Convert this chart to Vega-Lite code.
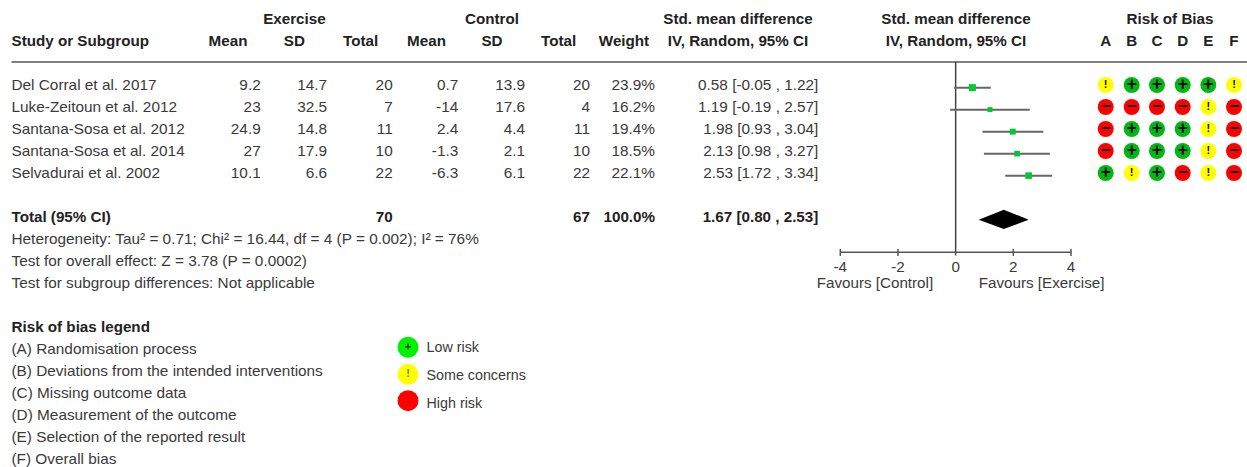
{"$schema":"https://vega.github.io/schema/vega-lite/v6.json","width":1247,"height":467,"padding":0,"autosize":{"type":"fit","contains":"padding"},"background":"white","config":{"view":{"stroke":null},"text":{"font":"Liberation Sans","fontSize":15.2}},
"datasets":{
"cells":[
{"s":"center-bold","t":"Exercise","c":3,"r":0},{"s":"center-bold","t":"Control","c":10,"r":0},{"s":"center-bold","t":"Std. mean difference","c":16,"r":0},{"s":"center-bold","t":"Std. mean difference","c":18,"r":0},{"s":"center-bold","t":"Risk of Bias","c":22,"r":0},
{"s":"left-bold","t":"Study or Subgroup","c":0,"r":1},{"s":"center-bold","t":"Mean","c":1,"r":1},{"s":"center-bold","t":"SD","c":3,"r":1},{"s":"center-bold","t":"Total","c":5,"r":1},{"s":"center-bold","t":"Mean","c":8,"r":1},{"s":"center-bold","t":"SD","c":10,"r":1},{"s":"center-bold","t":"Total","c":12,"r":1},{"s":"center-bold","t":"Weight","c":14,"r":1},{"s":"center-bold","t":"IV, Random, 95% CI","c":16,"r":1},{"s":"center-bold","t":"IV, Random, 95% CI","c":18,"r":1},
{"s":"center-bold","t":"A","c":19,"r":1},{"s":"center-bold","t":"B","c":20,"r":1},{"s":"center-bold","t":"C","c":21,"r":1},{"s":"center-bold","t":"D","c":23,"r":1},{"s":"center-bold","t":"E","c":24,"r":1},{"s":"center-bold","t":"F","c":25,"r":1},
{"s":"left","t":"Del Corral et al. 2017","c":0,"r":3},{"s":"right","t":"9.2","c":2,"r":3},{"s":"right","t":"14.7","c":4,"r":3},{"s":"right","t":"20","c":6,"r":3},{"s":"right","t":"0.7","c":9,"r":3},{"s":"right","t":"13.9","c":11,"r":3},{"s":"right","t":"20","c":13,"r":3},{"s":"right","t":"23.9%","c":15,"r":3},{"s":"right","t":"0.58 [-0.05 , 1.22]","c":17,"r":3},
{"s":"left","t":"Luke-Zeitoun et al. 2012","c":0,"r":4},{"s":"right","t":"23","c":2,"r":4},{"s":"right","t":"32.5","c":4,"r":4},{"s":"right","t":"7","c":6,"r":4},{"s":"right","t":"-14","c":9,"r":4},{"s":"right","t":"17.6","c":11,"r":4},{"s":"right","t":"4","c":13,"r":4},{"s":"right","t":"16.2%","c":15,"r":4},{"s":"right","t":"1.19 [-0.19 , 2.57]","c":17,"r":4},
{"s":"left","t":"Santana-Sosa et al. 2012","c":0,"r":5},{"s":"right","t":"24.9","c":2,"r":5},{"s":"right","t":"14.8","c":4,"r":5},{"s":"right","t":"11","c":6,"r":5},{"s":"right","t":"2.4","c":9,"r":5},{"s":"right","t":"4.4","c":11,"r":5},{"s":"right","t":"11","c":13,"r":5},{"s":"right","t":"19.4%","c":15,"r":5},{"s":"right","t":"1.98 [0.93 , 3.04]","c":17,"r":5},
{"s":"left","t":"Santana-Sosa et al. 2014","c":0,"r":6},{"s":"right","t":"27","c":2,"r":6},{"s":"right","t":"17.9","c":4,"r":6},{"s":"right","t":"10","c":6,"r":6},{"s":"right","t":"-1.3","c":9,"r":6},{"s":"right","t":"2.1","c":11,"r":6},{"s":"right","t":"10","c":13,"r":6},{"s":"right","t":"18.5%","c":15,"r":6},{"s":"right","t":"2.13 [0.98 , 3.27]","c":17,"r":6},
{"s":"left","t":"Selvadurai et al. 2002","c":0,"r":7},{"s":"right","t":"10.1","c":2,"r":7},{"s":"right","t":"6.6","c":4,"r":7},{"s":"right","t":"22","c":6,"r":7},{"s":"right","t":"-6.3","c":9,"r":7},{"s":"right","t":"6.1","c":11,"r":7},{"s":"right","t":"22","c":13,"r":7},{"s":"right","t":"22.1%","c":15,"r":7},{"s":"right","t":"2.53 [1.72 , 3.34]","c":17,"r":7},
{"s":"left-bold","t":"Total (95% CI)","c":0,"r":9},{"s":"right-bold","t":"70","c":6,"r":9},{"s":"right-bold","t":"67","c":13,"r":9},{"s":"right-bold","t":"100.0%","c":15,"r":9},{"s":"right-bold","t":"1.67 [0.80 , 2.53]","c":17,"r":9},
{"s":"left","t":"Heterogeneity: Tau² = 0.71; Chi² = 16.44, df = 4 (P = 0.002); I² = 76%","c":0,"r":10},{"s":"left","t":"Test for overall effect: Z = 3.78 (P = 0.0002)","c":0,"r":11},{"s":"left","t":"Test for subgroup differences: Not applicable","c":0,"r":12},
{"s":"left-bold","t":"Risk of bias legend","c":0,"r":14},{"s":"left","t":"(A) Randomisation process","c":0,"r":15},{"s":"left","t":"(B) Deviations from the intended interventions","c":0,"r":16},{"s":"left","t":"(C) Missing outcome data","c":0,"r":17},{"s":"left","t":"(D) Measurement of the outcome","c":0,"r":18},{"s":"left","t":"(E) Selection of the reported result","c":0,"r":19},{"s":"left","t":"(F) Overall bias","c":0,"r":20},
{"s":"key","t":"Low risk","c":8,"r":14.95},{"s":"key","t":"Some concerns","c":8,"r":16.22},{"s":"key","t":"High risk","c":8,"r":17.48}
],
"rob":[
{"c":19,"r":3,"j":"Some concerns"},{"c":20,"r":3,"j":"Low risk"},{"c":21,"r":3,"j":"Low risk"},{"c":23,"r":3,"j":"Low risk"},{"c":24,"r":3,"j":"Low risk"},{"c":25,"r":3,"j":"Some concerns"},
{"c":19,"r":4,"j":"High risk"},{"c":20,"r":4,"j":"High risk"},{"c":21,"r":4,"j":"High risk"},{"c":23,"r":4,"j":"High risk"},{"c":24,"r":4,"j":"Some concerns"},{"c":25,"r":4,"j":"High risk"},
{"c":19,"r":5,"j":"High risk"},{"c":20,"r":5,"j":"Low risk"},{"c":21,"r":5,"j":"Low risk"},{"c":23,"r":5,"j":"Low risk"},{"c":24,"r":5,"j":"Some concerns"},{"c":25,"r":5,"j":"High risk"},
{"c":19,"r":6,"j":"High risk"},{"c":20,"r":6,"j":"Low risk"},{"c":21,"r":6,"j":"Low risk"},{"c":23,"r":6,"j":"Low risk"},{"c":24,"r":6,"j":"Some concerns"},{"c":25,"r":6,"j":"High risk"},
{"c":19,"r":7,"j":"Low risk"},{"c":20,"r":7,"j":"Some concerns"},{"c":21,"r":7,"j":"Low risk"},{"c":23,"r":7,"j":"High risk"},{"c":24,"r":7,"j":"Some concerns"},{"c":25,"r":7,"j":"High risk"}
],
"studies":[
{"est":0.58,"lo":-0.05,"hi":1.22,"w":23.9,"r":3.12},{"est":1.19,"lo":-0.19,"hi":2.57,"w":16.2,"r":4.12},{"est":1.98,"lo":0.93,"hi":3.04,"w":19.4,"r":5.12},{"est":2.13,"lo":0.98,"hi":3.27,"w":18.5,"r":6.12},{"est":2.53,"lo":1.72,"hi":3.34,"w":22.1,"r":7.12}
],
"ticks":[{"v":-4,"t":"-4"},{"v":-2,"t":"-2"},{"v":0,"t":"0"},{"v":2,"t":"2"},{"v":4,"t":"4"}],
"legendKey":[{"j":"Low risk","r":14.92,"sym":"+"},{"j":"Some concerns","r":16.15,"sym":"!"},{"j":"High risk","r":17.35,"sym":"-"}]
},
"layer":[
{"resolve":{"scale":{"color":"independent"}},"layer":[
{"data":{"values":[{"a":0,"b":26,"r":1.95}]},"mark":{"type":"rule","color":"#808080","strokeWidth":2},"encoding":{"x":{"field":"a","type":"quantitative","axis":null,"scale":{"domain":[0,1,2,3,4,5,6,7,8,9,10,11,12,13,14,15,16,17,18,19,20,21,22,23,24,25,26],"range":[11.5,228,260.7,294.4,327,360.7,392.7,408,426.5,458.3,492,525,558.7,590,624,655,738,818.3,956,1105.7,1131.7,1157,1170,1182.7,1208.3,1234,1247],"zero":false,"nice":false}},"x2":{"field":"b"},"y":{"field":"r","type":"quantitative","axis":null,"scale":{"domain":[0,20],"range":[19,459],"zero":false,"nice":false}}}},
{"data":{"name":"cells"},"transform":[{"filter":"datum.s==='left'"}],"mark":{"type":"text","align":"left","baseline":"middle","color":"#3a3a3a","fontSize":15.35},"encoding":{"x":{"field":"c","type":"quantitative"},"y":{"field":"r","type":"quantitative"},"text":{"field":"t"}}},
{"data":{"name":"cells"},"transform":[{"filter":"datum.s==='key'"}],"mark":{"type":"text","align":"left","baseline":"middle","color":"#3a3a3a","fontSize":14.3},"encoding":{"x":{"field":"c","type":"quantitative"},"y":{"field":"r","type":"quantitative"},"text":{"field":"t"}}},
{"data":{"name":"cells"},"transform":[{"filter":"datum.s==='right'"}],"mark":{"type":"text","align":"right","baseline":"middle","color":"#3a3a3a","fontSize":15.35},"encoding":{"x":{"field":"c","type":"quantitative"},"y":{"field":"r","type":"quantitative"},"text":{"field":"t"}}},
{"data":{"name":"cells"},"transform":[{"filter":"datum.s==='left-bold'"}],"mark":{"type":"text","align":"left","baseline":"middle","fontWeight":"bold","color":"#222222"},"encoding":{"x":{"field":"c","type":"quantitative"},"y":{"field":"r","type":"quantitative"},"text":{"field":"t"}}},
{"data":{"name":"cells"},"transform":[{"filter":"datum.s==='right-bold'"}],"mark":{"type":"text","align":"right","baseline":"middle","fontWeight":"bold","color":"#222222"},"encoding":{"x":{"field":"c","type":"quantitative"},"y":{"field":"r","type":"quantitative"},"text":{"field":"t"}}},
{"data":{"name":"cells"},"transform":[{"filter":"datum.s==='center-bold'"}],"mark":{"type":"text","align":"center","baseline":"middle","fontWeight":"bold","color":"#222222"},"encoding":{"x":{"field":"c","type":"quantitative"},"y":{"field":"r","type":"quantitative"},"text":{"field":"t"}}},
{"data":{"name":"rob"},"mark":{"type":"point","shape":"circle","filled":true,"opacity":1,"size":256},"encoding":{"x":{"field":"c","type":"quantitative"},"y":{"field":"r","type":"quantitative"},"color":{"field":"j","type":"nominal","legend":null,"scale":{"domain":["Low risk","Some concerns","High risk"],"range":["#00b814","#ffff00","#ff0000"]}}}},
{"data":{"name":"rob"},"transform":[{"filter":"datum.j==='Low risk'"}],"mark":{"type":"text","align":"center","baseline":"middle","fontWeight":"bold","fontSize":18,"color":"#111111","text":"+"},"encoding":{"x":{"field":"c","type":"quantitative"},"y":{"field":"r","type":"quantitative"}}},
{"data":{"name":"rob"},"transform":[{"filter":"datum.j==='High risk'"}],"mark":{"type":"text","align":"center","baseline":"middle","fontWeight":"bold","fontSize":18,"color":"#111111","text":"−"},"encoding":{"x":{"field":"c","type":"quantitative"},"y":{"field":"r","type":"quantitative"}}},
{"data":{"name":"rob"},"transform":[{"filter":"datum.j==='Some concerns'"}],"mark":{"type":"text","align":"center","baseline":"middle","fontWeight":"bold","fontSize":11,"color":"#111111","text":"!"},"encoding":{"x":{"field":"c","type":"quantitative"},"y":{"field":"r","type":"quantitative"}}},
{"data":{"name":"legendKey"},"mark":{"type":"point","shape":"circle","filled":true,"opacity":1,"size":441},"encoding":{"x":{"datum":7,"type":"quantitative"},"y":{"field":"r","type":"quantitative"},"color":{"field":"j","type":"nominal","legend":null,"scale":{"domain":["Low risk","Some concerns","High risk"],"range":["#00f000","#ffff00","#ff0000"]}}}},
{"data":{"name":"legendKey"},"mark":{"type":"text","align":"center","baseline":"middle","fontWeight":"bold","fontSize":11},"encoding":{"x":{"datum":7,"type":"quantitative"},"y":{"field":"r","type":"quantitative"},"text":{"field":"sym"},"color":{"field":"sym","type":"nominal","legend":null,"scale":{"domain":["+","!","-"],"range":["#103010","#6b8e00","#aa0000"]}}}}
]},
{"layer":[
{"data":{"values":[{"v":0,"a":1.95,"b":10.75}]},"mark":{"type":"rule","color":"#444444","strokeWidth":1.5},"encoding":{"x":{"field":"v","type":"quantitative","axis":null,"scale":{"domain":[-4,4],"range":[840.3,1071],"zero":false,"nice":false}},"y":{"field":"a","type":"quantitative"},"y2":{"field":"b"}}},
{"data":{"values":[{"a":-4,"b":4,"r":10.6}]},"mark":{"type":"rule","color":"#555555","strokeWidth":1.5},"encoding":{"x":{"field":"a","type":"quantitative"},"x2":{"field":"b"},"y":{"field":"r","type":"quantitative"}}},
{"data":{"name":"ticks"},"transform":[{"filter":"datum.v!==0"}],"mark":{"type":"rule","color":"#555555","strokeWidth":1.5},"encoding":{"x":{"field":"v","type":"quantitative"},"y":{"datum":10.45,"type":"quantitative"},"y2":{"datum":10.77}}},
{"data":{"name":"ticks"},"mark":{"type":"text","align":"center","baseline":"middle","color":"#3a3a3a"},"encoding":{"x":{"field":"v","type":"quantitative"},"y":{"datum":11.26,"type":"quantitative"},"text":{"field":"t"}}},
{"data":{"values":[{"v":-0.78,"t":"Favours [Control]"}]},"mark":{"type":"text","align":"right","baseline":"middle","color":"#3a3a3a"},"encoding":{"x":{"field":"v","type":"quantitative"},"y":{"datum":12,"type":"quantitative"},"text":{"field":"t"}}},
{"data":{"values":[{"v":0.8,"t":"Favours [Exercise]"}]},"mark":{"type":"text","align":"left","baseline":"middle","color":"#3a3a3a"},"encoding":{"x":{"field":"v","type":"quantitative"},"y":{"datum":12,"type":"quantitative"},"text":{"field":"t"}}},
{"data":{"name":"studies"},"mark":{"type":"rule","color":"#666666","strokeWidth":2},"encoding":{"x":{"field":"lo","type":"quantitative"},"x2":{"field":"hi"},"y":{"field":"r","type":"quantitative"}}},
{"data":{"name":"studies"},"mark":{"type":"square","filled":true,"opacity":1,"color":"#00c832"},"encoding":{"x":{"field":"est","type":"quantitative"},"y":{"field":"r","type":"quantitative"},"size":{"field":"w","type":"quantitative","legend":null,"scale":{"domain":[16.2,23.9],"range":[25,49],"zero":false}}}},
{"data":{"values":[{"v":0.8,"top":9.12,"bottom":9.12},{"v":1.67,"top":8.67,"bottom":9.55},{"v":2.53,"top":9.12,"bottom":9.12}]},"mark":{"type":"area","color":"#000000","opacity":1},"encoding":{"x":{"field":"v","type":"quantitative"},"y":{"field":"top","type":"quantitative"},"y2":{"field":"bottom"}}}
]}
],
"resolve":{"scale":{"x":"independent"}}
}
